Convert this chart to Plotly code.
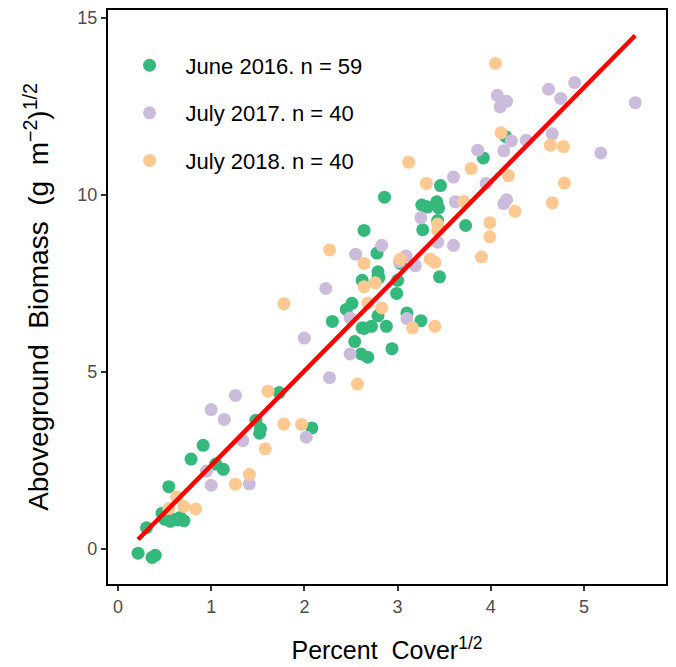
import plotly.graph_objects as go

# ---- data ----
june2016_x = [0.216, 0.306, 0.365, 0.40, 0.545, 0.473, 0.50, 0.563, 0.644, 0.707, 0.667, 0.52, 0.60,
              0.784, 0.914, 1.05, 1.13, 1.48, 1.53, 1.52, 1.73, 2.08, 2.30, 2.45, 2.51, 2.54, 2.61,
              2.68, 2.64, 2.62, 2.78, 2.79, 2.80, 2.79, 2.64, 2.72, 2.88, 2.86, 2.94, 2.99, 3.00,
              3.03, 3.10, 3.25, 3.26, 3.32, 3.27, 3.42, 3.44, 3.43, 3.46, 3.45, 3.73, 3.92, 4.16,
              3.30, 2.62, 3.44, 2.79]
june2016_y = [-0.12, 0.60, -0.24, -0.18, 1.76, 1.01, 0.84, 0.78, 0.82, 0.80, 0.89, 0.92, 0.84,
              2.54, 2.93, 2.40, 2.25, 3.64, 3.40, 3.27, 4.42, 3.42, 6.43, 6.77, 6.94, 5.86, 5.51,
              5.42, 9.00, 7.59, 8.36, 7.83, 7.67, 6.59, 6.23, 6.29, 6.29, 9.94, 5.66, 7.22, 7.59,
              8.07, 6.67, 6.45, 9.72, 9.66, 9.02, 9.81, 9.64, 9.28, 10.27, 7.69, 9.14, 11.05, 11.65,
              9.68, 6.25, 9.05, 7.72]

july2017_x = [1.00, 0.95, 1.00, 1.14, 1.26, 1.34, 1.41, 2.02, 2.00, 2.23, 2.27, 2.55, 2.49, 2.49,
              2.83, 3.09, 3.19, 3.10, 3.25, 3.43, 3.60, 3.62, 3.60, 3.86, 3.95, 4.07, 4.10, 4.17,
              4.14, 4.22, 4.38, 4.14, 4.17, 4.62, 4.75, 4.90, 4.66, 5.18, 5.55, 3.02]
july2017_y = [1.80, 2.20, 3.94, 3.66, 4.34, 3.06, 1.84, 3.16, 5.96, 7.36, 4.84, 8.33, 6.53, 5.51,
              8.58, 8.28, 8.00, 6.51, 9.36, 8.67, 10.51, 9.81, 8.58, 11.27, 10.33, 12.82, 12.49, 12.65,
              11.25, 11.53, 11.55, 9.76, 9.87, 12.99, 12.73, 13.18, 11.73, 11.19, 12.61, 8.12]

july2018_x = [0.545, 0.63, 0.707, 0.833, 1.26, 1.41, 1.58, 1.61, 1.78, 1.78, 1.97, 2.27, 2.57, 2.64,
              2.64, 2.76, 2.68, 2.83, 3.03, 3.12, 3.16, 3.31, 3.35, 3.40, 3.40, 3.43, 3.43, 3.71,
              3.79, 3.90, 3.99, 3.99, 4.05, 4.11, 4.19, 4.26, 4.64, 4.78, 4.79, 4.66]
july2018_y = [1.14, 1.47, 1.20, 1.13, 1.83, 2.11, 2.83, 4.46, 6.93, 3.53, 3.52, 8.45, 4.66, 8.07,
              7.41, 7.52, 6.95, 6.81, 8.19, 10.93, 6.25, 10.33, 8.19, 8.10, 6.29, 9.18, 9.00, 9.82,
              10.75, 8.25, 9.22, 8.82, 13.72, 11.76, 10.55, 9.54, 11.41, 11.37, 10.34, 9.78]

series_names = ["June 2016. n = 59", "July 2017. n = 40", "July 2018. n = 40"]

# linear fit
fit_intercept = -0.31
fit_slope = 2.67

x_ticks = [0, 1, 2, 3, 4, 5]
y_ticks = [0, 5, 10, 15]

# ---- styles ----
colors = ["#35B87C", "#CCBCDC", "#FEC891"]
FONT = "Liberation Sans, Arial, Helvetica, sans-serif"

fig = go.Figure()
for i, (xs, ys) in enumerate([(june2016_x, june2016_y), (july2017_x, july2017_y), (july2018_x, july2018_y)]):
    fig.add_trace(go.Scatter(
        x=xs, y=ys, mode="markers", name=series_names[i], legendgroup=f"g{i}",
        marker=dict(color=colors[i], size=13, line=dict(width=0))))

all_x = june2016_x + july2017_x + july2018_x
xmin, xmax = min(all_x), max(all_x)
fig.add_trace(go.Scatter(
    x=[xmin, xmax], y=[fit_intercept + fit_slope * xmin, fit_intercept + fit_slope * xmax],
    mode="lines", line=dict(color="#FF0000", width=4.5), showlegend=False, hoverinfo="skip"))

axis_common = dict(
    showgrid=False, zeroline=False, showline=True, linecolor="black", linewidth=2.2, mirror=True,
    ticks="outside", ticklen=5, tickwidth=1.5, tickcolor="#333333", automargin=False,
    tickfont=dict(family=FONT, size=18, color="#4D4D4D"),
)

fig.update_layout(
    template="none",
    width=676, height=667,
    margin=dict(l=108, r=10, t=10, b=83, pad=0),
    paper_bgcolor="white", plot_bgcolor="white",
    font=dict(family=FONT),
    xaxis=dict(range=[-0.107, 5.88], tickvals=x_ticks, ticktext=[str(t) for t in x_ticks],
               title=dict(text="Percent\u00a0\u00a0Cover<sup>1/2</sup>",
                          font=dict(family=FONT, size=25, color="black"), standoff=26),
               **axis_common),
    yaxis=dict(range=[-0.99, 15.23], tickvals=y_ticks, ticktext=[str(t) for t in y_ticks],
               title=dict(text="Aboveground\u00a0\u00a0Biomass\u00a0\u00a0(g\u00a0\u00a0m<sup>\u22122</sup>)<sup>1/2</sup>",
                          font=dict(family=FONT, size=28, color="black"), standoff=20),
               **axis_common),
    legend=dict(x=0.01, y=0.94, xanchor="left", yanchor="top", bgcolor="rgba(0,0,0,0)",
                font=dict(family=FONT, size=22, color="black"), tracegroupgap=16,
                itemwidth=62, traceorder="grouped"),
)

fig.write_html("out.html", config={"displayModeBar": False},
               post_script="document.body.style.margin='0';document.body.style.overflow='hidden';")
